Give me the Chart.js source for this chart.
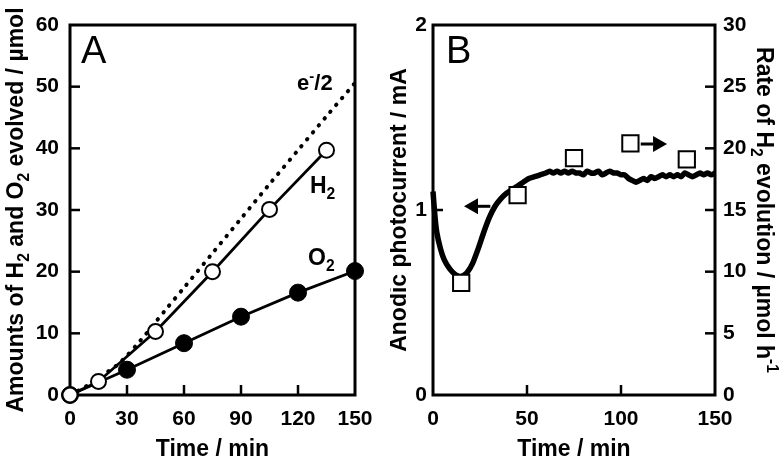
<!DOCTYPE html>
<html>
<head>
<meta charset="utf-8">
<script src="https://cdn.jsdelivr.net/npm/chart.js@4.4.1/dist/chart.umd.min.js"></script>
<style>
html, body { margin: 0; padding: 0; background: #fff; }
#wrap { position: relative; width: 780px; height: 461px; }
.panel { position: absolute; top: 0; width: 390px; height: 461px; }
</style>
</head>
<body>
<div id="wrap">
  <div class="panel" style="left:0"><canvas id="graficaA" width="390" height="461"></canvas></div>
  <div class="panel" style="left:390px"><canvas id="graficaB" width="390" height="461"></canvas></div>
</div>
<script>
// ---- Panel A: amounts evolved ----
var tiempoH2 = [0, 15, 45, 75, 105, 135];
var valoresH2 = [0, 2.2, 10.3, 20.0, 30.1, 39.7];
var tiempoO2 = [0, 30, 60, 90, 120, 150];
var valoresO2 = [0, 4.1, 8.4, 12.7, 16.6, 20.1];
var tiempoE = [0, 5, 10, 15, 20, 25, 30, 35, 40, 45, 50, 60, 75, 90, 105, 120, 135, 150];
var valoresE = [0, 0.8, 1.7, 2.7, 3.8, 4.9, 6.4, 8.1, 9.9, 11.8, 13.7, 17.4, 23.0, 28.6, 34.2, 39.7, 45.2, 50.6];
var ticksXA = [0, 30, 60, 90, 120, 150];
var ticksYA = [0, 10, 20, 30, 40, 50, 60];

// ---- Panel B: photocurrent and H2 rate ----
var tiempoCorriente = [0, 1, 2, 4, 6, 9, 12, 15, 18, 21, 24, 27, 30, 33, 36, 39, 42, 45, 48, 51, 54, 57, 60,
  62, 64, 66, 68, 70, 72, 74, 76, 78, 80, 82, 84, 86, 88, 90, 92, 94, 96, 98, 100, 102, 104, 106, 108, 110,
  112, 114, 116, 118, 120, 122, 124, 126, 128, 130, 132, 134, 136, 138, 140, 142, 144, 146, 148, 150];
var corriente = [1.10, 0.97, 0.88, 0.79, 0.73, 0.68, 0.65, 0.64, 0.66, 0.71, 0.79, 0.88, 0.96, 1.02, 1.06, 1.09, 1.11, 1.13, 1.15, 1.17, 1.18, 1.19, 1.20,
  1.21, 1.20, 1.21, 1.20, 1.21, 1.20, 1.21, 1.20, 1.20, 1.19, 1.21, 1.20, 1.20, 1.21, 1.19, 1.20, 1.21, 1.20, 1.20, 1.19, 1.19, 1.17, 1.16, 1.15, 1.16,
  1.17, 1.16, 1.18, 1.17, 1.18, 1.19, 1.18, 1.19, 1.18, 1.19, 1.18, 1.20, 1.19, 1.18, 1.19, 1.20, 1.19, 1.20, 1.19, 1.20];
var tiempoTasa = [15, 45, 75, 105, 135];
var tasaH2 = [9.1, 16.2, 19.2, 20.4, 19.1];
var ticksXB = [0, 50, 100, 150];
var ticksYB = [0, 1, 2];
var ticksY2B = [0, 5, 10, 15, 20, 25, 30];

var FUENTE = "'Liberation Sans', Arial, sans-serif";

function puntos(xs, ys) {
  return xs.map(function (x, i) { return { x: x, y: ys[i] }; });
}

// text with sub/superscripts: partes = [[texto, 'sub'|'sup'|null], ...]
function textoRico(ctx, partes, x, y, tam, alinear) {
  var anchos = partes.map(function (p) {
    ctx.font = 'bold ' + (p[1] ? tam * 0.68 : tam) + 'px ' + FUENTE;
    return ctx.measureText(p[0]).width;
  });
  var total = anchos.reduce(function (a, b) { return a + b; }, 0);
  var cx = alinear === 'center' ? x - total / 2 : x;
  ctx.textBaseline = 'alphabetic';
  ctx.textAlign = 'left';
  partes.forEach(function (p, i) {
    ctx.font = 'bold ' + (p[1] ? tam * 0.68 : tam) + 'px ' + FUENTE;
    var dy = p[1] === 'sub' ? tam * 0.28 : (p[1] === 'sup' ? -tam * 0.42 : 0);
    ctx.fillText(p[0], cx, y + dy);
    cx += anchos[i];
  });
}

function marco(chart, lados) {
  var ctx = chart.ctx, a = chart.chartArea;
  ctx.save();
  ctx.strokeStyle = '#000';
  ctx.lineWidth = 2.5;
  lados.forEach(function (l) {
    var s = chart.scales[l.id];
    s.ticks.forEach(function (t) {
      if (t.value === s.min || t.value === s.max) return;
      var p = s.getPixelForValue(t.value);
      ctx.beginPath();
      if (l.lado === 'bottom') { ctx.moveTo(p, a.bottom); ctx.lineTo(p, a.bottom - 10); }
      if (l.lado === 'left') { ctx.moveTo(a.left, p); ctx.lineTo(a.left + 10, p); }
      if (l.lado === 'right') { ctx.moveTo(a.right, p); ctx.lineTo(a.right - 10, p); }
      ctx.stroke();
    });
  });
  ctx.lineWidth = 3;
  ctx.strokeRect(a.left, a.top, a.right - a.left, a.bottom - a.top);
  ctx.restore();
}

function tituloVertical(ctx, partes, x, y, tam, giro) {
  ctx.save();
  ctx.translate(x, y);
  ctx.rotate(giro);
  textoRico(ctx, partes, 0, 0, tam, 'center');
  ctx.restore();
}

function flecha(ctx, x0, x1, y) {
  var dir = x1 > x0 ? 1 : -1;
  var base = x1 - dir * 14;
  ctx.save();
  ctx.fillStyle = '#000';
  ctx.strokeStyle = '#000';
  ctx.lineWidth = 3;
  ctx.beginPath(); ctx.moveTo(x0, y); ctx.lineTo(base, y); ctx.stroke();
  ctx.beginPath();
  ctx.moveTo(x1, y); ctx.lineTo(base, y - 8); ctx.lineTo(base, y + 8); ctx.closePath();
  ctx.fill();
  ctx.restore();
}

var decoA = {
  id: 'decoA',
  beforeDatasetsDraw: function (chart) {
    marco(chart, [{ id: 'x', lado: 'bottom' }, { id: 'y', lado: 'left' }]);
  },
  afterDraw: function (chart) {
    var ctx = chart.ctx, a = chart.chartArea, sx = chart.scales.x, sy = chart.scales.y;
    ctx.save();
    ctx.fillStyle = '#000';
    ctx.font = '38px ' + FUENTE;
    ctx.textBaseline = 'alphabetic';
    ctx.fillText('A', a.left + 11, a.top + 38);
    textoRico(ctx, [['e', null], ['-', 'sup'], ['/2', null]], sx.getPixelForValue(119.5), sy.getPixelForValue(49.5), 22);
    textoRico(ctx, [['H', null], ['2', 'sub']], sx.getPixelForValue(126.3), sy.getPixelForValue(32.8), 23);
    textoRico(ctx, [['O', null], ['2', 'sub']], sx.getPixelForValue(125.3), sy.getPixelForValue(21.1), 23);
    textoRico(ctx, [['Time / min', null]], (a.left + a.right) / 2, 456, 23, 'center');
    tituloVertical(ctx, [['Amounts of H', null], ['2', 'sub'], [' and O', null], ['2', 'sub'], [' evolved / \u00b5mol', null]],
      23, (a.top + a.bottom) / 2, 23, -Math.PI / 2);
    ctx.restore();
  }
};

var decoB = {
  id: 'decoB',
  beforeDatasetsDraw: function (chart) {
    marco(chart, [{ id: 'x', lado: 'bottom' }, { id: 'y', lado: 'left' }, { id: 'y2', lado: 'right' }]);
  },
  afterDraw: function (chart) {
    var ctx = chart.ctx, a = chart.chartArea, sx = chart.scales.x, sy = chart.scales.y, sy2 = chart.scales.y2;
    ctx.save();
    ctx.fillStyle = '#000';
    ctx.font = '38px ' + FUENTE;
    ctx.textBaseline = 'alphabetic';
    ctx.fillText('B', a.left + 13, a.top + 38);
    flecha(ctx, sx.getPixelForValue(30.5), sx.getPixelForValue(16.5), sy.getPixelForValue(1.02));
    flecha(ctx, sx.getPixelForValue(110.5), sx.getPixelForValue(124.5), sy2.getPixelForValue(20.35));
    textoRico(ctx, [['Time / min', null]], (a.left + a.right) / 2, 456, 23, 'center');
    tituloVertical(ctx, [['Anodic photocurrent / mA', null]], 16, (a.top + a.bottom) / 2, 23, -Math.PI / 2);
    tituloVertical(ctx, [['Rate of H', null], ['2', 'sub'], [' evolution / \u00b5mol h', null], ['-1', 'sup']],
      367, (a.top + a.bottom) / 2, 23, Math.PI / 2);
    ctx.restore();
  }
};

function ejeLineal(min, max, paso, ancho, alto, relleno) {
  return {
    type: 'linear', min: min, max: max,
    grid: { display: false, drawTicks: false },
    border: { display: false },
    ticks: { stepSize: paso, padding: relleno, color: '#000', font: { family: FUENTE, size: 21, weight: 'bold' } },
    afterFit: function (s) {
      if (ancho !== null) s.width = ancho;
      if (alto !== null) s.height = alto;
    }
  };
}

var comunes = {
  responsive: false,
  animation: false,
  plugins: { legend: { display: false }, tooltip: { enabled: false } }
};

new Chart(document.getElementById('graficaA').getContext('2d'), {
  type: 'line',
  data: {
    datasets: [
      {
        label: 'H2', data: puntos(tiempoH2, valoresH2), borderColor: '#000', borderWidth: 2.8,
        pointRadius: 7.5, pointBackgroundColor: '#fff', pointBorderColor: '#000', pointBorderWidth: 2, clip: false
      },
      {
        label: 'O2', data: puntos(tiempoO2, valoresO2), borderColor: '#000', borderWidth: 2.8,
        pointRadius: 8.5, pointBackgroundColor: '#000', pointBorderColor: '#000', pointBorderWidth: 1, clip: false
      },
      {
        label: 'e-/2', data: puntos(tiempoE, valoresE), borderColor: '#000', borderWidth: 4,
        borderDash: [0.5, 8.5], borderCapStyle: 'round', pointRadius: 0, tension: 0.3, clip: false
      }
    ]
  },
  options: Object.assign({}, comunes, {
    layout: { padding: { top: 25, right: 35, left: 0, bottom: 0 } },
    scales: {
      x: Object.assign(ejeLineal(0, 150, 30, null, 66, 12), { position: 'bottom' }),
      y: Object.assign(ejeLineal(0, 60, 10, 70, null, 11), { position: 'left' })
    }
  }),
  plugins: [decoA]
});

new Chart(document.getElementById('graficaB').getContext('2d'), {
  type: 'line',
  data: {
    datasets: [
      {
        label: 'Rate of H2', data: puntos(tiempoTasa, tasaH2), yAxisID: 'y2', showLine: false,
        pointStyle: 'rect', pointRadius: 11.5, pointBackgroundColor: '#fff', pointBorderColor: '#000', pointBorderWidth: 2, clip: false
      },
      {
        label: 'Photocurrent', data: puntos(tiempoCorriente, corriente), yAxisID: 'y', borderColor: '#000', borderWidth: 5.5,
        pointRadius: 0, tension: 0.2, clip: false
      }
    ]
  },
  options: Object.assign({}, comunes, {
    layout: { padding: { top: 25, right: 0, left: 0, bottom: 0 } },
    scales: {
      x: Object.assign(ejeLineal(0, 150, 50, null, 66, 12), { position: 'bottom' }),
      y: Object.assign(ejeLineal(0, 2, 1, 43, null, 6), { position: 'left' }),
      y2: Object.assign(ejeLineal(0, 30, 5, 65, null, 8), { position: 'right' })
    }
  }),
  plugins: [decoB]
});
</script>
</body>
</html>
